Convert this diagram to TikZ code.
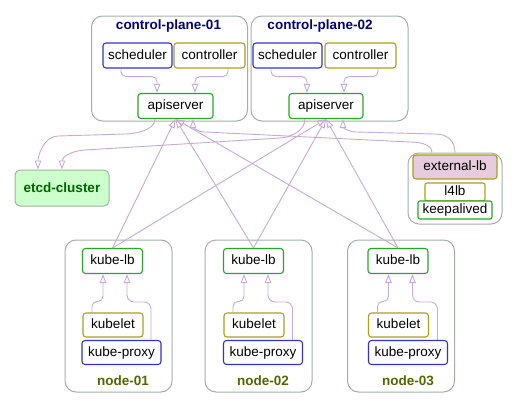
\documentclass[tikz,border=0pt]{standalone}
\usepackage{fontspec}
\setmainfont{Liberation Sans}
\usetikzlibrary{arrows.meta}
\definecolor{clgray}{RGB}{165,175,165}
\definecolor{nblue}{RGB}{51,51,204}
\definecolor{nolive}{RGB}{170,160,30}
\definecolor{ngreen}{RGB}{40,165,40}
\definecolor{edgec}{RGB}{200,170,215}
\definecolor{navytxt}{RGB}{0,0,128}
\definecolor{olivetxt}{RGB}{85,102,0}
\definecolor{etcdfill}{RGB}{204,255,204}
\definecolor{etcdtxt}{RGB}{0,100,0}
\definecolor{elbfill}{RGB}{230,204,220}
\newcommand\lblfont{\fontsize{13.5}{16}\selectfont}
\begin{document}
\begin{tikzpicture}[x=1pt,y=-1pt,
  cluster/.style={draw=clgray, line width=1pt, rounded corners=11pt, fill=white, inner sep=0pt},
  box/.style={draw=#1, line width=1.1pt, rounded corners=3pt, fill=white, minimum height=25pt,
    inner sep=0pt, text height=10pt, text depth=3pt, font=\lblfont, text=black},
  ctitle/.style={font=\lblfont\bfseries, text=navytxt, inner sep=0pt},
  ntitle/.style={font=\lblfont\bfseries, text=olivetxt, inner sep=0pt},
  edge/.style={draw=edgec, line width=0.9pt, -{Triangle[open, length=9pt, width=6.5pt]}},
  rbend/.style={rounded corners=5pt}
]
\fill[white] (0,0) rectangle (527,405);
\useasboundingbox (0,0) rectangle (527,405);

% control plane clusters
\node[cluster, minimum width=156pt, minimum height=105pt] (cp1) at (169.5,68.5) {};
\node[cluster, minimum width=157pt, minimum height=105pt] (cp2) at (329.5,68.5) {};
\node[ctitle] (cp1t) at (168.5,26.5) {control-plane-01};
\node[ctitle] (cp2t) at (320,26.5) {control-plane-02};

\node[box=nblue, minimum width=69pt] (sched1) at (137.5,55.5) {scheduler};
\node[box=nolive, minimum width=71pt] (ctrl1) at (209.5,55.5) {controller};
\node[box=ngreen, minimum width=75pt] (api1) at (175.5,106) {apiserver};
\node[box=nblue, minimum width=69pt] (sched2) at (287.5,55.5) {scheduler};
\node[box=nolive, minimum width=71pt] (ctrl2) at (360.5,55.5) {controller};
\node[box=ngreen, minimum width=74pt] (api2) at (326,106) {apiserver};

% etcd
\node[draw=clgray, fill=etcdfill, rounded corners=5pt, line width=1pt, minimum width=94pt,
  minimum height=36pt, inner sep=0pt, font=\lblfont\bfseries, text=etcdtxt] (etcd) at (62,188) {etcd-cluster};

% external lb cluster
\node[cluster, minimum width=94pt, minimum height=71pt] (elbc) at (455,188.5) {};
\node[box=nolive, fill=elbfill, minimum width=84pt, minimum height=24pt] (extlb) at (455,167) {external-lb};
\node[box=nolive, minimum width=60pt, minimum height=18pt, rounded corners=2pt] (l4lb) at (455,192) {l4lb};
\node[box=ngreen, minimum width=74pt, minimum height=18pt, rounded corners=2pt] (keep) at (455,210) {keepalived};

% worker node clusters
\foreach \i/\cx/\kl/\kp in {1/118.5/112.5/121.5, 2/258.5/253.5/263, 3/401/398/408} {
  \node[cluster, minimum width=107pt, minimum height=152pt] (node\i) at (\cx,316) {};
  \node[box=ngreen, minimum width=60pt] (kubelb\i) at (\kl,261) {kube-lb};
  \node[box=nolive, minimum width=60pt, minimum height=24pt] (kubelet\i) at (\kl+0.5,325) {kubelet};
  \node[box=nblue, minimum width=79pt, minimum height=24pt] (kproxy\i) at (\kp,352.5) {kube-proxy};
  \draw[edge, rbend] ([xshift=-21pt]kubelet\i.north) -- ++(0,-11) -| ([xshift=-9.5pt]kubelb\i.south);
  \draw[edge, rounded corners=7pt] ([xshift=29.5pt]kproxy\i.north) -- ++(0,-38) -| ([xshift=14.5pt]kubelb\i.south);
}
\node[ntitle] (n1t) at (123,381) {node-01};
\node[ntitle] (n2t) at (263,381) {node-02};
\node[ntitle] (n3t) at (408,381) {node-03};

% control plane internal edges
\draw[edge, rbend] ([xshift=-16.5pt]sched1.south) -- ++(0,8) -| ([xshift=-18.5pt]api1.north);
\draw[edge, rbend] ([xshift=18.5pt]ctrl1.south) -- ++(0,8) -| ([xshift=19.5pt]api1.north);
\draw[edge, rbend] ([xshift=-16.5pt]sched2.south) -- ++(0,8) -| ([xshift=-19pt]api2.north);
\draw[edge, rbend] ([xshift=17.5pt]ctrl2.south) -- ++(0,8) -| ([xshift=18pt]api2.north);

% apiserver -> etcd
\draw[edge] ([xshift=-20.5pt]api1.south) .. controls +(0,12) and +(8,0) .. (125,134)
  -- (58,136) .. controls +(-14,0) and +(0,-14) .. ([xshift=-24pt]etcd.north);
\draw[edge] ([xshift=-21pt]api2.south) .. controls +(0,12) and +(10,-0.5) .. (280,138)
  -- (85,150) .. controls +(-15,1) and +(0,-12) .. (etcd.north);

% external-lb -> apiservers
\draw[edge] ([xshift=-23pt]elbc.north) .. controls +(0,-8) and +(10,0) .. (410,142)
  -- (205,132) .. controls +(-8,0) and +(0,8) .. ([xshift=17.5pt]api1.south);
\draw[edge] (elbc.north) .. controls +(0,-12) and +(12,0) .. (435,134)
  -- (356,132) .. controls +(-8,0) and +(0,8) .. ([xshift=17pt]api2.south);

% kube-lb -> apiservers
\foreach \i in {1,2,3} {
  \draw[edge] (kubelb\i.north) -- (api1.south);
  \draw[edge] (kubelb\i.north) -- (api2.south);
}
\end{tikzpicture}
\end{document}
